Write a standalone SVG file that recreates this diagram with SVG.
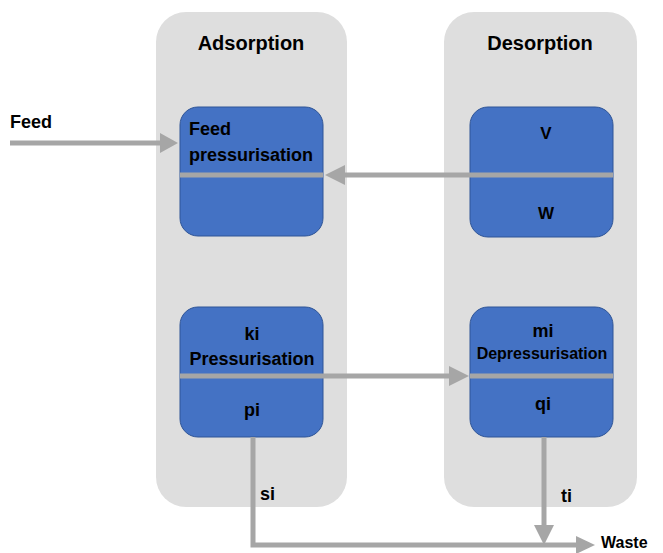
<svg xmlns="http://www.w3.org/2000/svg" width="663" height="553" viewBox="0 0 663 553">
<style>
.panel{fill:#dedede;}
.box{fill:#4472c4;stroke:#2f5597;stroke-width:1;}
.t{font-family:"Liberation Sans",Arial,sans-serif;font-weight:bold;fill:#000;}
.c{stroke:#a6a6a6;stroke-width:5;fill:none;}
.ah{fill:#a6a6a6;}
</style>
<rect width="663" height="553" fill="#fff"/>
<g id="adsorption">
<rect class="panel" x="156" y="12" width="191" height="495" rx="30"/>
<text class="t" x="251" y="50" font-size="20" text-anchor="middle">Adsorption</text>
</g>
<g id="desorption">
<rect class="panel" x="444" y="12" width="193" height="495" rx="30"/>
<text class="t" x="540" y="50" font-size="20" text-anchor="middle">Desorption</text>
</g>
<g id="feed-pressurisation">
<rect class="box" x="180" y="107" width="143" height="129" rx="18"/>
<text class="t" x="189" y="135" font-size="18">Feed</text>
<text class="t" x="189" y="161" font-size="18">pressurisation</text>
</g>
<g id="vw">
<rect class="box" x="470" y="107" width="143" height="130" rx="18"/>
<text class="t" x="546" y="139" font-size="17" text-anchor="middle">V</text>
<text class="t" x="546" y="219" font-size="17" text-anchor="middle">W</text>
</g>
<g id="pressurisation">
<rect class="box" x="180" y="307" width="143" height="130" rx="18"/>
<text class="t" x="252" y="340" font-size="18" text-anchor="middle">ki</text>
<text class="t" x="252" y="365" font-size="18" text-anchor="middle">Pressurisation</text>
<text class="t" x="252" y="416" font-size="18" text-anchor="middle">pi</text>
</g>
<g id="depressurisation">
<rect class="box" x="470" y="307" width="143" height="130" rx="18"/>
<text class="t" x="543" y="337" font-size="18" text-anchor="middle">mi</text>
<text class="t" x="542" y="359" font-size="16" text-anchor="middle">Depressurisation</text>
<text class="t" x="543" y="410" font-size="18" text-anchor="middle">qi</text>
</g>
<g id="feed-label"><text class="t" x="10" y="128" font-size="18">Feed</text></g>
<g id="waste-label"><text class="t" x="601" y="548" font-size="16">Waste</text></g>
<g id="connectors">
<line class="c" x1="10" y1="143" x2="162" y2="143"/>
<polygon class="ah" points="178,143 160,133 160,153"/>
<line class="c" x1="180" y1="175" x2="323" y2="175"/>
<line class="c" x1="343" y1="175" x2="613" y2="175"/>
<polygon class="ah" points="325,175 345,165 345,185"/>
<line class="c" x1="180" y1="376" x2="452" y2="376"/>
<polygon class="ah" points="469,376 449,366 449,386"/>
<line class="c" x1="470" y1="376" x2="613" y2="376"/>
<polyline class="c" points="253,437 253,545 578,545"/>
<polygon class="ah" points="595,545 576,536 576,554"/>
<line class="c" x1="544" y1="437" x2="544" y2="528"/>
<polygon class="ah" points="544,545 534,525 554,525"/>
<text class="t" x="260" y="500" font-size="18">si</text>
<text class="t" x="561" y="502" font-size="18">ti</text>
</g>
</svg>
